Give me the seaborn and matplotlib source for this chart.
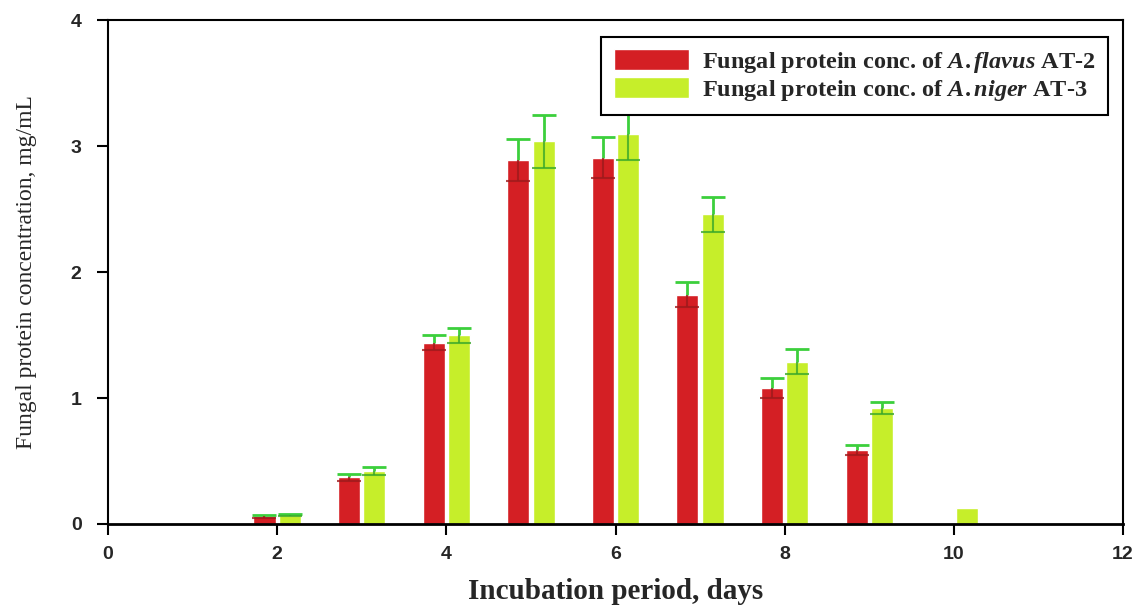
import matplotlib
matplotlib.use("Agg")
import matplotlib.pyplot as plt
import seaborn as sns
import pandas as pd

# Protein concentration (mg/mL) per incubation day, mean and error
days = [2, 3, 4, 5, 6, 7, 8, 9, 10]
flavus = [0.06, 0.37, 1.44, 2.89, 2.91, 1.82, 1.08, 0.59, 0.0]
flavus_err = [0.01, 0.03, 0.06, 0.17, 0.16, 0.10, 0.08, 0.04, 0.0]
niger = [0.07, 0.42, 1.50, 3.04, 3.10, 2.46, 1.29, 0.92, 0.13]
niger_err = [0.01, 0.03, 0.06, 0.21, 0.21, 0.14, 0.10, 0.05, 0.0]

series_names = [r"Fungal protein conc. of $\mathit{A.flavus}$ AT-2",
                r"Fungal protein conc. of $\mathit{A.niger}$ AT-3"]
x_ticks = [0, 2, 4, 6, 8, 10, 12]
y_ticks = [0, 1, 2, 3, 4]

red = "#d41f24"
lime = "#c6ee2a"
err_green = "#3ccf3c"

sns.set_theme(style="white")
plt.rcParams["mathtext.fontset"] = "custom"
plt.rcParams["mathtext.it"] = "Liberation Serif:italic:bold"
plt.rcParams["mathtext.rm"] = "Liberation Serif:bold"

df = pd.DataFrame({
    "day": days * 2,
    "conc": flavus + niger,
    "series": [series_names[0]] * len(days) + [series_names[1]] * len(days),
})

fig = plt.figure(figsize=(11.39, 6.11), dpi=100)
ax = fig.add_axes([0.0948, 0.1424, 0.8912, 0.8244])

sns.barplot(data=df, x="day", y="conc", hue="series", native_scale=True,
            palette=[red, lime], width=0.6, gap=0.13, dodge=True,
            errorbar=None, saturation=1, ax=ax, zorder=2)

# error bars: upper half in green, lower half as a darker line inside the bar
for cont, errs, dark in zip(ax.containers, [flavus_err, niger_err],
                            ["#9e1a1c", "#3aa82a"]):
    for bar, e in zip(cont, errs):
        if e <= 0:
            continue
        cx = bar.get_x() + bar.get_width() / 2
        h = bar.get_height()
        _, caps, _ = ax.errorbar([cx], [h], yerr=[[0], [e]], fmt="none",
                                 ecolor=err_green, elinewidth=2, capsize=8.5,
                                 capthick=2, zorder=3)
        caps[0].set_visible(False)
        _, caps, _ = ax.errorbar([cx], [h], yerr=[[e], [0]], fmt="none",
                                 ecolor=dark, elinewidth=1.5, capsize=8.5,
                                 capthick=1.5, zorder=3, alpha=0.8)
        caps[1].set_visible(False)

ax.set_xlim(0, 12)
ax.set_ylim(0, 4)
ax.set_xticks(x_ticks)
ax.set_yticks(y_ticks)
ax.set_xticklabels([str(t) for t in x_ticks], family="Liberation Sans",
                   fontsize=14, fontweight="bold")
ax.set_yticklabels([str(t) for t in y_ticks], family="Liberation Sans",
                   fontsize=14, fontweight="bold")
ax.tick_params(axis="both", direction="out", length=8, width=1.5,
               color="black", bottom=True, left=True)
ax.tick_params(axis="y", pad=11)
ax.tick_params(axis="x", pad=8)

for s in ax.spines.values():
    s.set_visible(True)
    s.set_color("black")
    s.set_linewidth(1.5)
ax.spines["bottom"].set_linewidth(2)

ax.set_xlabel("Incubation period, days", family="Liberation Serif",
              fontweight="bold", fontsize=21, labelpad=11)
ax.set_ylabel("Fungal protein concentration, mg/mL", family="Liberation Serif",
              fontsize=17, labelpad=24)

leg = ax.legend(loc="upper right", bbox_to_anchor=(0.985, 0.967),
                borderaxespad=0, frameon=True, fancybox=False, framealpha=1,
                edgecolor="black", handlelength=3.1, handleheight=0.95,
                handletextpad=0.55, labelspacing=0.08, borderpad=0.5,
                prop={"family": "Liberation Serif", "weight": "bold",
                      "size": 17.5})
leg.get_frame().set_linewidth(1.5)
leg.set_zorder(5)

fig.savefig("out.png", dpi=100, facecolor="white")
